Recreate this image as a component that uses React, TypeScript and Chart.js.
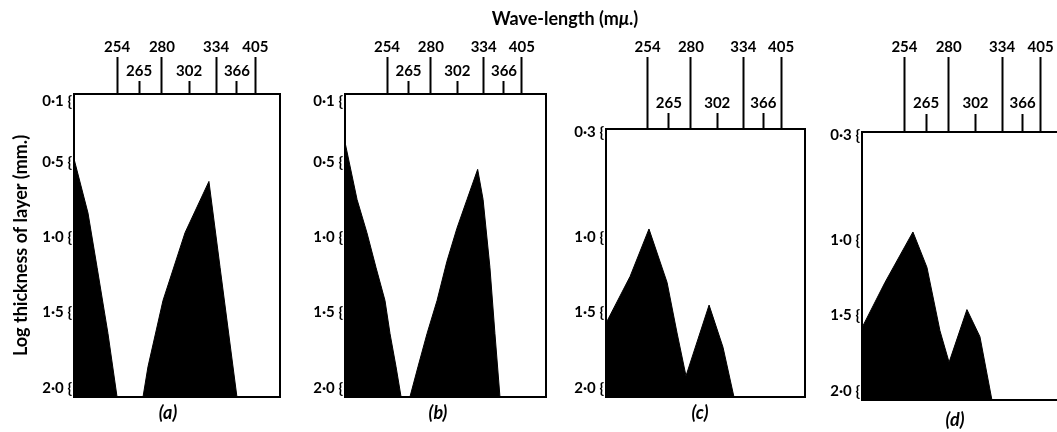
import React, { useEffect, useRef } from 'react';
import { Chart, registerables } from 'chart.js';

Chart.register(...registerables);

// ---- Axis data ----
const wavelengthLabels = ['254', '265', '280', '302', '334', '366', '405'];
// position of each wavelength mark along the (arbitrary-unit, 0-100) horizontal scale
const wavelengthPositions = [20.9, 31.6, 42.7, 55.9, 69.0, 79.1, 88.0];
const longTickIdx = [0, 2, 4, 6];
const shortTickIdx = [1, 3, 5];

const thicknessTicksAB = [0.1, 0.5, 1.0, 1.5, 2.0];
const thicknessTicksCD = [0.3, 1.0, 1.5, 2.0];

const panelLabels = ['(a)', '(b)', '(c)', '(d)'];

// ---- Series data (x in scale units, y = log thickness) ----
const aX = [0, 6.8, 11.2, 16.5, 20.9, 33.5, 35.9, 43.2, 53.9, 65.5, 70.9, 79.1, 100];
const aY = [0.48, 0.84, 1.2, 1.64, 2.06, 2.06, 1.86, 1.42, 0.97, 0.63, 1.2, 2.06, 2.06];

const bX = [0, 6.0, 10.9, 15.4, 19.9, 22.4, 25.4, 27.9, 32.3, 36.3, 40.8, 45.8, 50.7, 55.7, 60.7, 66.0, 68.7, 72.1, 74.6, 77.1, 100];
const bY = [0.37, 0.75, 0.97, 1.2, 1.42, 1.64, 1.86, 2.06, 2.06, 1.86, 1.64, 1.42, 1.16, 0.94, 0.75, 0.55, 0.75, 1.2, 1.64, 2.06, 2.06];

const cX = [0, 12.1, 21.6, 30.7, 35.7, 40.2, 51.8, 58.8, 64.3, 100];
const cY = [1.57, 1.26, 0.945, 1.3, 1.635, 1.92, 1.45, 1.73, 2.06, 2.06];

const dX = [0, 11.3, 25.1, 32.0, 38.4, 42.9, 51.7, 58.1, 64.0, 100];
const dY = [1.58, 1.28, 0.945, 1.18, 1.6, 1.81, 1.46, 1.64, 2.06, 2.06];

const seriesX = [aX, bX, cX, dX];
const seriesY = [aY, bY, cY, dY];
const thicknessTicks = [thicknessTicksAB, thicknessTicksAB, thicknessTicksCD, thicknessTicksCD];
const yRanges = [
  [0.05, 2.06],
  [0.05, 2.06],
  [0.2816, 2.06],
  [0.2816, 2.06],
];

// ---- Layout ----
const layouts = [
  { left: 0, width: 336, yAxisWidth: 74, rightWidth: 56, topHeight: 94, longLen: 37, shortLen: 14, longPad: 1, shortPad: -17.5, titleTop: 5.2, titleBottom: 8.2, showYTitle: true },
  { left: 303, width: 270, yAxisWidth: 42, rightWidth: 27, topHeight: 94, longLen: 37, shortLen: 14, longPad: 1, shortPad: -17.5, titleTop: 5.2, titleBottom: 8.2, showYTitle: false },
  { left: 564, width: 272, yAxisWidth: 42, rightWidth: 31, topHeight: 129, longLen: 72, shortLen: 17, longPad: 1, shortPad: -18, titleTop: 5.2, titleBottom: 8.2, showYTitle: false },
  { left: 820, width: 270, yAxisWidth: 42, rightWidth: 25, topHeight: 132, longLen: 75, shortLen: 19, longPad: 1, shortPad: -19, titleTop: 9.2, titleBottom: 1.2, showYTitle: false },
];

const FONT = 'Lato';
const INK = '#000';

function fmtThickness(v: number) {
  return v.toFixed(1).replace('.', '\u00B7') + ' {';
}

function Panel({ idx }: { idx: number }) {
  const ref = useRef<HTMLCanvasElement>(null);
  const L = layouts[idx];
  useEffect(() => {
    const [yMin, yMax] = yRanges[idx];
    const xs = seriesX[idx];
    const ys = seriesY[idx];
    const yTicks = thicknessTicks[idx];
    const border = { display: true, color: INK, width: 2 };
    const chart = new Chart(ref.current as HTMLCanvasElement, {
      type: 'line',
      data: {
        datasets: [
          {
            data: xs.map((x, i) => ({ x, y: ys[i] })),
            xAxisID: 'x',
            yAxisID: 'y',
            borderColor: INK,
            backgroundColor: INK,
            borderWidth: 1,
            pointRadius: 0,
            tension: 0,
            fill: { value: yMax },
          },
        ],
      },
      options: {
        animation: false,
        responsive: false,
        maintainAspectRatio: false,
        devicePixelRatio: 1,
        layout: { padding: 0 },
        plugins: {
          legend: { display: false },
          tooltip: { enabled: false },
          title: {
            display: true,
            text: panelLabels[idx],
            position: 'bottom',
            fullSize: true,
            color: INK,
            font: { family: FONT, size: 18, style: 'italic', weight: 'bold', lineHeight: 1.2 },
            padding: { top: L.titleTop, bottom: L.titleBottom },
          },
        },
        scales: {
          x: {
            type: 'linear',
            axis: 'x',
            position: 'top',
            min: 0,
            max: 100,
            afterBuildTicks: (s: any) => {
              s.ticks = longTickIdx.map((i) => ({ value: wavelengthPositions[i] }));
            },
            afterFit: (s: any) => {
              s.height = L.topHeight;
            },
            ticks: {
              autoSkip: false,
              maxRotation: 0,
              minRotation: 0,
              padding: L.longPad,
              color: INK,
              font: { family: FONT, size: 15, weight: 'bold', lineHeight: 1.2 },
              callback: (_v: any, i: number) => wavelengthLabels[longTickIdx[i]],
            },
            grid: { drawOnChartArea: false, drawTicks: true, tickLength: L.longLen, tickWidth: 2, tickColor: INK },
            border,
          },
          xShort: {
            type: 'linear',
            axis: 'x',
            position: { y: yMin },
            min: 0,
            max: 100,
            afterBuildTicks: (s: any) => {
              s.ticks = shortTickIdx.map((i) => ({ value: wavelengthPositions[i] }));
            },
            ticks: {
              autoSkip: false,
              maxRotation: 0,
              minRotation: 0,
              padding: L.shortPad,
              color: INK,
              font: { family: FONT, size: 15, weight: 'bold', lineHeight: 1.2 },
              callback: (_v: any, i: number) => wavelengthLabels[shortTickIdx[i]],
            },
            grid: { drawOnChartArea: false, drawTicks: true, tickLength: -L.shortLen, tickWidth: 2, tickColor: INK },
            border,
          },
          xBottom: {
            type: 'linear',
            axis: 'x',
            position: 'bottom',
            min: 0,
            max: 100,
            ticks: { display: false },
            grid: { drawOnChartArea: false, drawTicks: false },
            border,
            afterFit: (s: any) => {
              s.height = 0;
            },
          },
          y: {
            type: 'linear',
            axis: 'y',
            position: 'left',
            reverse: true,
            min: yMin,
            max: yMax,
            afterBuildTicks: (s: any) => {
              s.ticks = yTicks.map((v) => ({ value: v }));
            },
            afterFit: (s: any) => {
              s.width = L.yAxisWidth;
            },
            ticks: {
              autoSkip: false,
              padding: 2,
              color: INK,
              font: { family: FONT, size: 15, weight: 'bold' },
              callback: (v: any) => fmtThickness(Number(v)),
            },
            grid: { drawOnChartArea: false, drawTicks: false },
            border,
            title: {
              display: L.showYTitle,
              text: 'Log thickness of layer (mm.)',
              color: INK,
              font: { family: FONT, size: 18, weight: 'bold', lineHeight: 1.2 },
              padding: { top: 10, bottom: 0 },
            },
          },
          yRight: {
            type: 'linear',
            axis: 'y',
            position: 'right',
            reverse: true,
            min: yMin,
            max: yMax,
            ticks: { display: false },
            grid: { drawOnChartArea: false, drawTicks: false },
            border,
            afterFit: (s: any) => {
              s.width = L.rightWidth;
            },
          },
        },
      } as any,
    });
    return () => chart.destroy();
  }, [idx]);
  return (
    <canvas
      ref={ref}
      width={L.width}
      height={432}
      style={{ position: 'absolute', left: L.left, top: 0, width: L.width, height: 432 }}
    />
  );
}

export default function App() {
  return (
    <div
      style={{
        position: 'fixed',
        left: 0,
        top: 0,
        width: 1057,
        height: 432,
        overflow: 'hidden',
        background: '#fff',
      }}
    >
      {layouts.map((_, i) => (
        <Panel key={i} idx={i} />
      ))}
      <div
        style={{
          position: 'absolute',
          left: 565,
          top: 18,
          transform: 'translate(-50%, -50%)',
          fontFamily: FONT,
          fontWeight: 'bold',
          fontSize: 18,
          color: INK,
          whiteSpace: 'nowrap',
        }}
      >
        Wave-length (m<i>μ</i>.)
      </div>
    </div>
  );
}
